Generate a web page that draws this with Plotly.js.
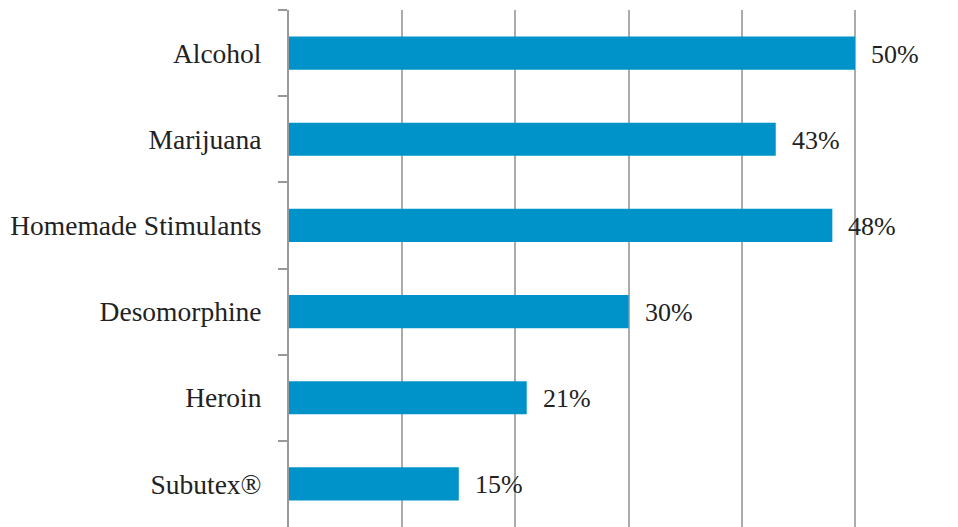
<!DOCTYPE html>
<html>
<head>
<meta charset="utf-8">
<script src="https://cdn.plot.ly/plotly-3.0.1.min.js"></script>
<style>html,body{margin:0;padding:0;background:#fff;}#chart{width:958px;height:527px;}</style>
</head>
<body>
<div id="chart"></div>
<script>
const categories = ["Alcohol", "Marijuana", "Homemade Stimulants", "Desomorphine", "Heroin", "Subutex®"];
const values = [50, 43, 48, 30, 21, 15];
const labels = values.map(v => v + "%");

const fontFamily = "Liberation Serif, Times New Roman, serif";

const trace = {
  type: "bar",
  orientation: "h",
  x: values,
  y: categories,
  marker: {color: "#0093C9"},
  hoverinfo: "none"
};

const annotations = categories.map((c, i) => ({
  x: values[i],
  y: c,
  xref: "x",
  yref: "y",
  text: labels[i],
  showarrow: false,
  xanchor: "left",
  yanchor: "middle",
  xshift: 14,
  yshift: -1,
  font: {family: fontFamily, size: 26, color: "#222"}
}));

const layout = {
  width: 958,
  height: 527,
  margin: {l: 289, r: 0, t: 10, b: 0},
  paper_bgcolor: "#fff",
  plot_bgcolor: "#fff",
  showlegend: false,
  bargap: 0.615,
  xaxis: {
    range: [0, 59.1],
    dtick: 10,
    tick0: 0,
    showgrid: true,
    gridcolor: "#ABABAB",
    gridwidth: 2,
    zeroline: false,
    showticklabels: false,
    showline: false,
    ticks: ""
  },
  yaxis: {
    type: "category",
    autorange: "reversed",
    tickson: "boundaries",
    ticks: "outside",
    ticklen: 9,
    tickwidth: 2,
    tickcolor: "#999",
    showline: true,
    linecolor: "#999",
    linewidth: 2,
    showgrid: false,
    zeroline: false,
    ticklabelstandoff: 20,
    tickfont: {family: fontFamily, size: 27.5, color: "#222"}
  },
  annotations: annotations
};

Plotly.newPlot("chart", [trace], layout, {displayModeBar: false, staticPlot: true});
</script>
</body>
</html>
